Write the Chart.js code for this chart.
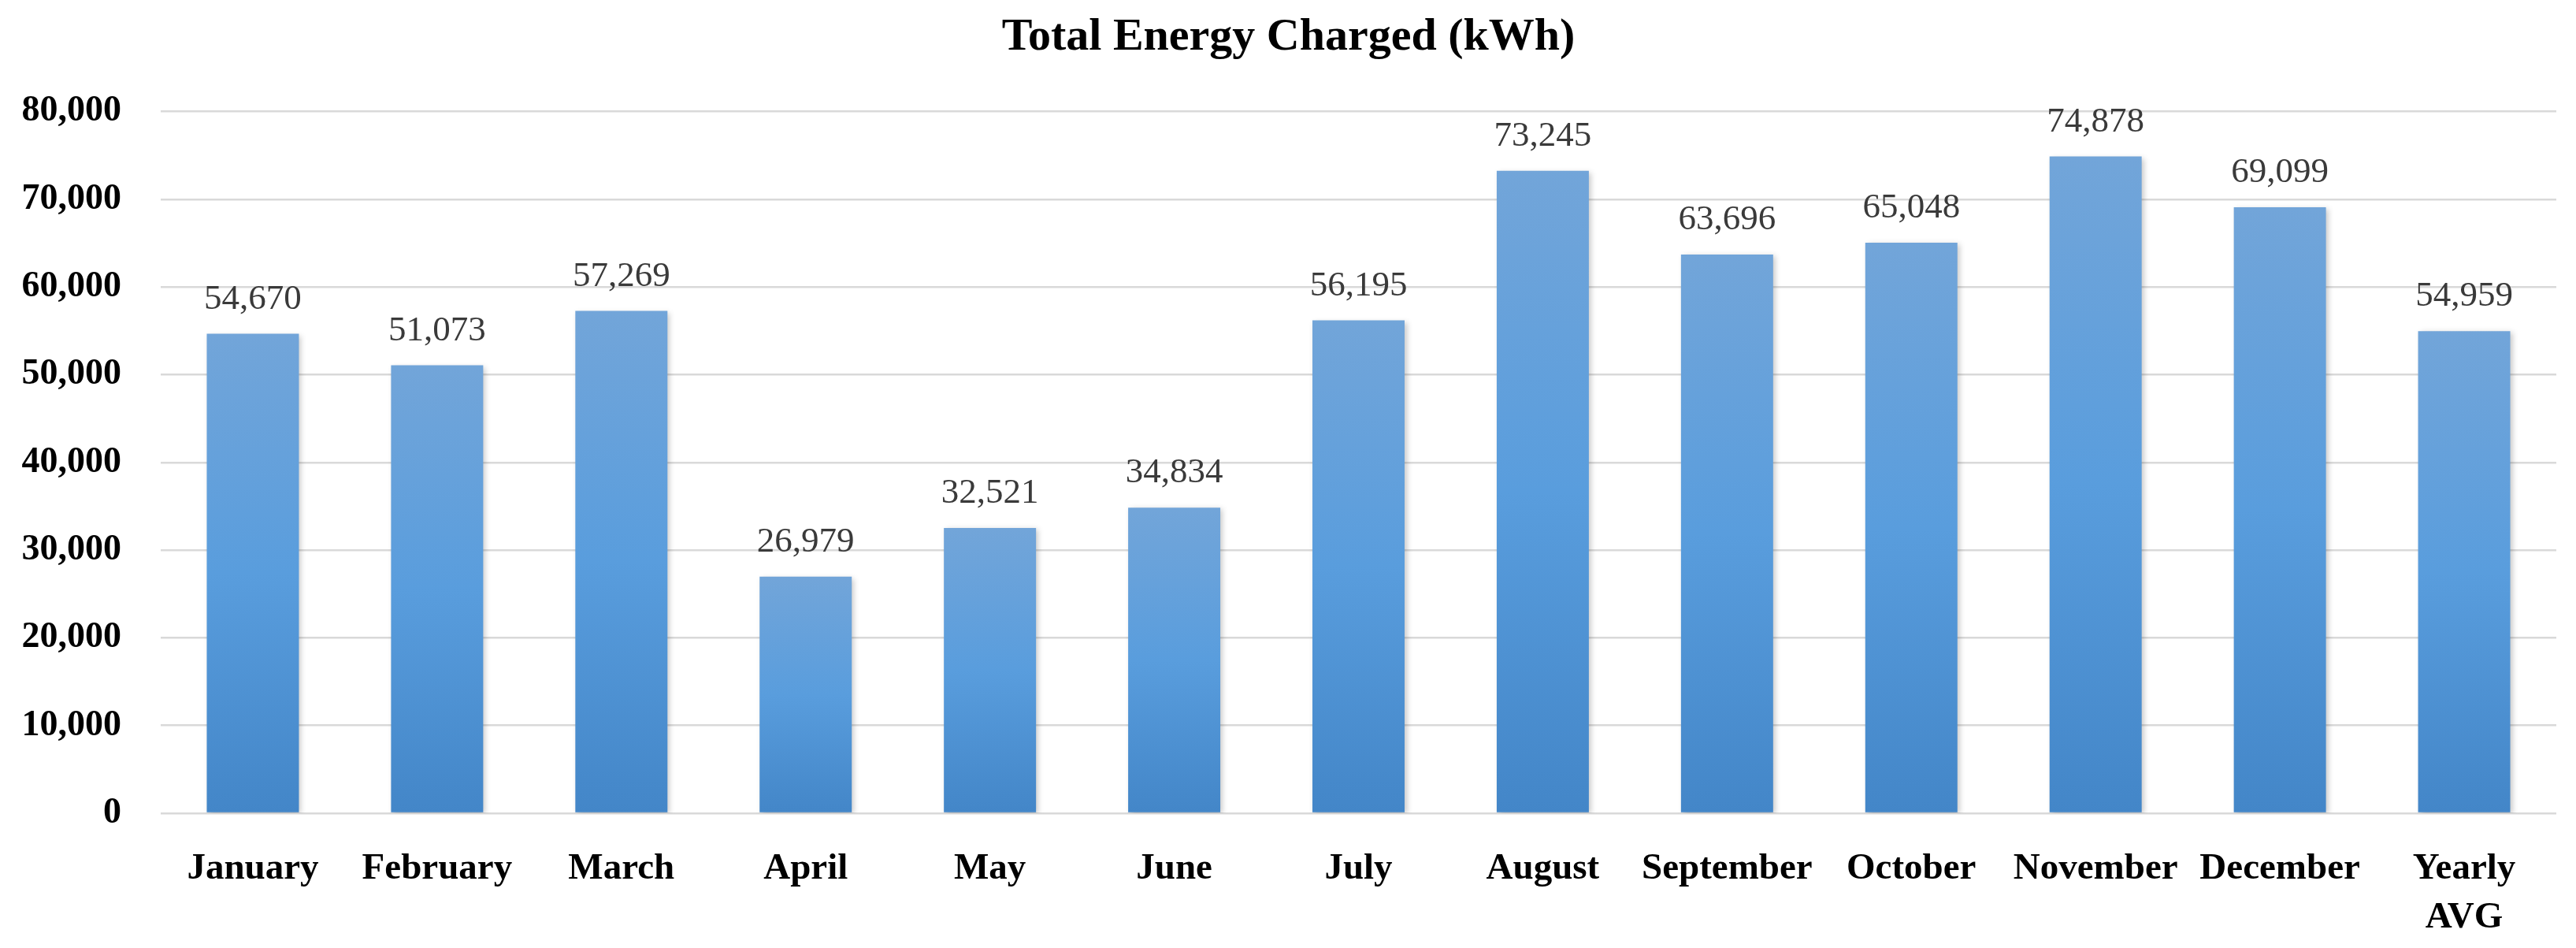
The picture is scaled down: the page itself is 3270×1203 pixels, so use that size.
<!DOCTYPE html>
<html>
<head>
<meta charset="utf-8">
<script src="https://cdn.jsdelivr.net/npm/chart.js@4/dist/chart.umd.min.js"></script>
<style>
  html, body { margin: 0; padding: 0; background: #fff; }
  canvas { display: block; }
</style>
</head>
<body>
<canvas id="energy" width="3270" height="1203"></canvas>
<script>
const months = ["January", "February", "March", "April", "May", "June", "July",
  "August", "September", "October", "November", "December", ["Yearly", "AVG"]];
const energy = [54670, 51073, 57269, 26979, 32521, 34834, 56195,
  73245, 63696, 65048, 74878, 69099, 54959];
const yTicks = [0, 10000, 20000, 30000, 40000, 50000, 60000, 70000, 80000];

const serif = '"Liberation Serif", "Times New Roman", serif';

// bar shadow + value labels above each bar
const barExtras = {
  id: "barExtras",
  beforeDatasetsDraw(chart) {
    const ctx = chart.ctx;
    ctx.save();
    ctx.shadowColor = "rgba(0, 0, 0, 0.22)";
    ctx.shadowBlur = 7;
    ctx.shadowOffsetX = 3;
    ctx.shadowOffsetY = 2;
  },
  afterDatasetsDraw(chart) {
    const ctx = chart.ctx;
    ctx.restore();
    const meta = chart.getDatasetMeta(0);
    ctx.save();
    ctx.font = "45px " + serif;
    ctx.fillStyle = "#3a3a3a";
    ctx.textAlign = "center";
    ctx.textBaseline = "alphabetic";
    meta.data.forEach((bar, i) => {
      ctx.fillText(energy[i].toLocaleString("en-US"), bar.x, bar.y - 32);
    });
    ctx.restore();
  },
};

function barFill(c) {
  const chart = c.chart;
  if (!chart.chartArea || c.type !== "data") return "#5b9bd5";
  const y = chart.scales.y;
  const top = y.getPixelForValue(c.parsed.y);
  const base = y.getPixelForValue(0);
  const g = chart.ctx.createLinearGradient(0, top, 0, base);
  g.addColorStop(0, "rgb(114, 165, 217)");
  g.addColorStop(0.5, "rgb(89, 157, 221)");
  g.addColorStop(1, "rgb(67, 134, 200)");
  return g;
}

new Chart(document.getElementById("energy"), {
  type: "bar",
  data: {
    labels: months,
    datasets: [
      {
        label: "Total Energy Charged (kWh)",
        data: energy,
        backgroundColor: barFill,
        borderWidth: 0,
        barPercentage: 0.5,
        categoryPercentage: 1.0,
      },
    ],
  },
  options: {
    responsive: false,
    devicePixelRatio: 1,
    animation: false,
    layout: { padding: { left: 26, right: 25, top: 0, bottom: 0 } },
    plugins: {
      legend: { display: false },
      tooltip: { enabled: false },
      title: {
        display: true,
        text: "Total Energy Charged (kWh)",
        color: "#000",
        font: { family: serif, size: 58, weight: "bold", lineHeight: 1.2 },
        padding: { top: 13, bottom: 59 },
      },
    },
    scales: {
      x: {
        grid: { display: false, drawTicks: false },
        border: { display: false },
        ticks: {
          color: "#000",
          font: { family: serif, size: 47, weight: "bold", lineHeight: 1.32 },
          padding: 40,
          autoSkip: false,
          maxRotation: 0,
          minRotation: 0,
        },
        afterFit(scale) { scale.height = 171; },
      },
      y: {
        min: 0,
        max: 80000,
        afterBuildTicks(scale) { scale.ticks = yTicks.map((v) => ({ value: v })); },
        grid: { color: "#d9d9d9", lineWidth: 2.5, drawTicks: false },
        border: { display: false },
        ticks: {
          color: "#000",
          font: { family: serif, size: 46, weight: "bold" },
          padding: 50,
          callback: (v) => v.toLocaleString("en-US"),
        },
        afterFit(scale) { scale.width = 178; },
      },
    },
  },
  plugins: [barExtras],
});
</script>
</body>
</html>
